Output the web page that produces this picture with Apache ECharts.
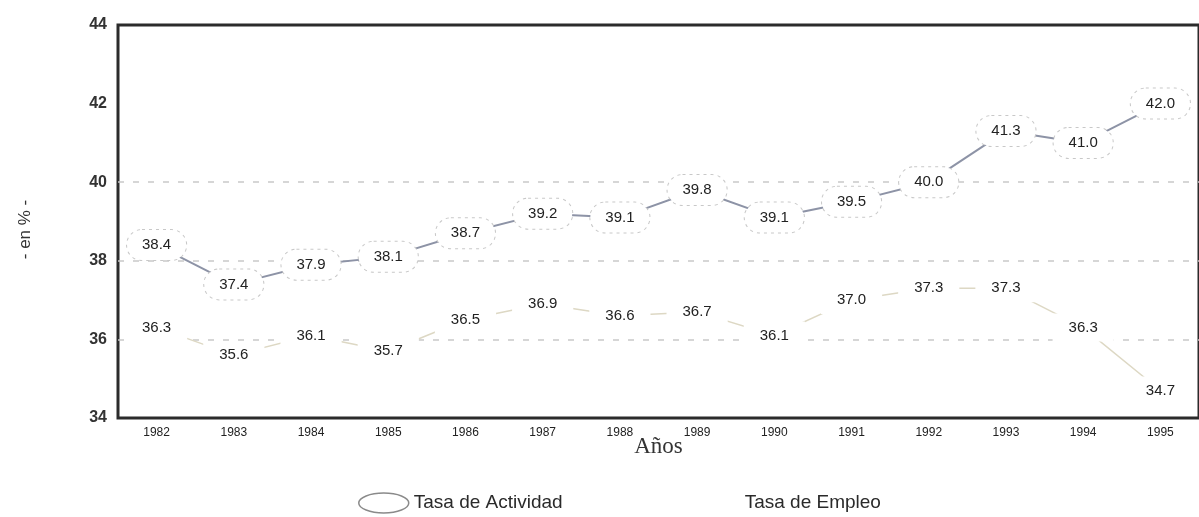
<!DOCTYPE html>
<html>
<head>
<meta charset="utf-8">
<script src="https://cdn.jsdelivr.net/npm/echarts@6/dist/echarts.min.js"></script>
<style>
  html, body { margin: 0; padding: 0; background: #fff; }
  #chart { width: 1199px; height: 517px; }
</style>
</head>
<body>
<div id="chart"></div>
<script>
// Años del periodo
const years = ['1982', '1983', '1984', '1985', '1986', '1987', '1988',
               '1989', '1990', '1991', '1992', '1993', '1994', '1995'];

// Tasa de Actividad (%)
const tasaActividad = [38.4, 37.4, 37.9, 38.1, 38.7, 39.2, 39.1,
                       39.8, 39.1, 39.5, 40.0, 41.3, 41.0, 42.0];

// Tasa de Empleo (%)
const tasaEmpleo = [36.3, 35.6, 36.1, 35.7, 36.5, 36.9, 36.6,
                    36.7, 36.1, 37.0, 37.3, 37.3, 36.3, 34.7];

// Marcas del eje vertical
const yMin = 34, yMax = 44, yStep = 2;

const chart = echarts.init(document.getElementById('chart'));

const gridColor = '#c9c9c9';
const clear = 'rgba(0,0,0,0)';
const ellipsePath = 'path://M0,12 A30,12 0 1,1 60,12 A30,12 0 1,1 0,12 Z';
const sans = 'Arial, Liberation Sans, sans-serif';

chart.setOption({
  backgroundColor: '#ffffff',
  animation: false,
  grid: {
    left: 118, right: -4, top: 25, bottom: 99,
    show: true,
    borderColor: '#2b2b2b',
    borderWidth: 3,
    backgroundColor: 'transparent'
  },
  legend: {
    left: 353,
    top: 485,
    itemWidth: 50,
    itemHeight: 26,
    itemGap: 127,
    textStyle: { fontFamily: sans, fontSize: 19, color: '#2a2a2a' },
    data: [
      { name: 'Tasa de Actividad', icon: ellipsePath,
        itemStyle: { color: '#ffffff', borderColor: '#8a8a8a', borderWidth: 1.5 } },
      { name: 'Tasa de Empleo', icon: 'rect',
        itemStyle: { color: clear, borderColor: clear } }
    ]
  },
  xAxis: {
    type: 'category',
    data: years,
    boundaryGap: true,
    name: 'Años',
    nameLocation: 'middle',
    nameGap: 17,
    nameMoveOverlap: false,
    nameTextStyle: { fontFamily: 'Liberation Serif, Times New Roman, serif', fontSize: 23, color: '#333' },
    axisLine: { show: false },
    axisTick: { show: false },
    axisLabel: { margin: 9, fontFamily: sans, fontSize: 12, color: '#222' },
    splitLine: { show: false }
  },
  yAxis: {
    type: 'value',
    min: yMin, max: yMax, interval: yStep,
    name: '- en % -',
    nameLocation: 'middle',
    nameGap: 84,
    nameRotate: 90,
    nameTextStyle: { fontFamily: sans, fontSize: 17, color: '#333', padding: [0, 0, 0, -16] },
    axisLine: { show: false },
    axisTick: { show: false },
    axisLabel: { margin: 11, fontFamily: sans, fontSize: 16, fontWeight: 'bold', color: '#333' },
    splitLine: {
      show: true,
      // solo las guías de 36, 38 y 40
      lineStyle: {
        color: [clear, gridColor, gridColor, gridColor, clear, clear],
        type: [6, 9],
        width: 1.5
      }
    }
  },
  series: [
    {
      name: 'Tasa de Actividad',
      type: 'line',
      data: tasaActividad,
      symbol: 'circle',
      symbolSize: 1,
      itemStyle: { color: clear },
      lineStyle: { color: '#8d93a6', width: 2 },
      z: 3,
      label: {
        show: true,
        position: 'inside',
        formatter: p => p.value.toFixed(1),
        fontFamily: sans,
        fontSize: 15,
        color: '#222',
        backgroundColor: '#ffffff',
        borderColor: '#c8c8c8',
        borderWidth: 1,
        borderType: [3, 4],
        borderRadius: 15,
        padding: [8, 15, 7, 15]
      }
    },
    {
      name: 'Tasa de Empleo',
      type: 'line',
      data: tasaEmpleo,
      symbol: 'circle',
      symbolSize: 1,
      itemStyle: { color: clear },
      lineStyle: { color: '#ddd8c4', width: 1.5 },
      z: 2,
      label: {
        show: true,
        position: 'inside',
        formatter: p => p.value.toFixed(1),
        fontFamily: sans,
        fontSize: 15,
        color: '#222',
        backgroundColor: '#ffffff',
        padding: [7, 16, 6, 16]
      }
    }
  ]
});
</script>
</body>
</html>
